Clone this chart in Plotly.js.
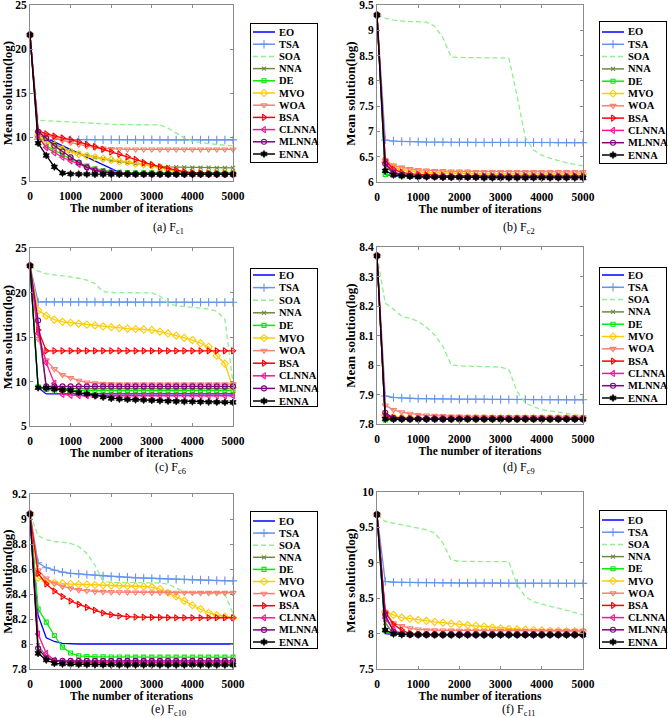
<!DOCTYPE html>
<html><head><meta charset="utf-8">
<script src="https://cdn.plot.ly/plotly-3.0.1.min.js"></script>
<style>html,body{margin:0;padding:0;background:#fff}#chart{width:668px;height:718px}</style>
</head><body><div id="chart"></div>
<script>
const ITER = [0,200,400,600,800,1000,1200,1400,1600,1800,2000,2200,2400,2600,2800,3000,3200,3400,3600,3800,4000,4200,4400,4600,4800,5000];
const NAMES = ['EO','TSA','SOA','NNA','DE','MVO','WOA','BSA','CLNNA','MLNNA','ENNA'];

// (a) Fc1
const a_EO    = [21.6,10.3,9.87,9.43,9.0,8.56,8.13,7.7,7.26,6.83,6.4,5.97,5.9,5.89,5.88,5.88,5.87,5.87,5.86,5.86,5.86,5.85,5.85,5.85,5.85,5.85];
const a_TSA   = [21.6,9.75,9.72,9.71,9.7,9.7,9.69,9.69,9.69,9.68,9.68,9.68,9.68,9.68,9.68,9.68,9.67,9.67,9.67,9.67,9.67,9.67,9.67,9.67,9.67,9.67];
const a_SOA   = [21.6,11.9,11.85,11.8,11.75,11.7,11.65,11.6,11.5,11.45,11.42,11.4,11.4,11.4,11.4,11.4,11.38,11.0,10.4,9.9,9.5,9.35,9.25,9.15,9.07,9.0];
const a_NNA   = [21.6,10.4,9.7,9.2,8.8,8.4,8.1,7.9,7.7,7.5,7.35,7.2,7.05,6.95,6.85,6.75,6.65,6.6,6.57,6.55,6.53,6.52,6.51,6.5,6.5,6.5];
const a_DE    = [21.6,10.0,9.0,8.5,8.0,7.5,7.1,6.7,6.4,6.2,6.05,5.98,5.95,5.93,5.92,5.92,5.91,5.91,5.9,5.9,5.9,5.9,5.9,5.9,5.9,5.9];
const a_MVO   = [21.6,10.2,9.5,9.0,8.6,8.3,8.05,7.85,7.7,7.55,7.4,7.25,7.15,7.0,6.9,6.75,6.55,6.3,6.1,5.95,5.85,5.82,5.8,5.8,5.8,5.8];
const a_WOA   = [21.6,10.5,10.2,9.9,9.6,9.35,9.15,8.95,8.8,8.7,8.65,8.62,8.6,8.6,8.6,8.6,8.6,8.6,8.6,8.6,8.6,8.6,8.6,8.6,8.6,8.6];
const a_BSA   = [21.6,10.7,10.35,10.1,9.9,9.7,9.45,9.15,8.9,8.6,8.3,8.05,7.75,7.45,7.1,6.85,6.6,6.4,6.2,6.05,5.95,5.9,5.85,5.82,5.8,5.8];
const a_CLNNA = [21.6,10.0,8.8,8.2,7.7,7.3,6.9,6.55,6.3,6.1,6.0,5.9,5.85,5.82,5.8,5.8,5.79,5.79,5.79,5.78,5.78,5.78,5.78,5.78,5.78,5.78];
const a_MLNNA = [21.6,10.6,9.85,9.0,8.35,7.7,7.1,6.55,6.2,6.0,5.9,5.85,5.82,5.8,5.8,5.8,5.8,5.8,5.8,5.8,5.8,5.8,5.8,5.8,5.8,5.8];
const a_ENNA  = [21.6,9.3,7.9,6.6,5.9,5.8,5.78,5.77,5.76,5.76,5.76,5.75,5.75,5.75,5.75,5.75,5.75,5.75,5.75,5.75,5.75,5.75,5.75,5.75,5.75,5.75];

// (b) Fc2
const b_EO    = [9.3,6.15,6.12,6.11,6.1,6.1,6.1,6.1,6.1,6.1,6.1,6.1,6.1,6.09,6.09,6.09,6.09,6.09,6.09,6.09,6.09,6.09,6.09,6.09,6.09,6.09];
const b_TSA   = [9.3,6.83,6.81,6.8,6.8,6.795,6.79,6.79,6.79,6.785,6.785,6.785,6.78,6.78,6.78,6.78,6.78,6.78,6.78,6.78,6.78,6.78,6.778,6.778,6.778,6.778];
const b_SOA   = [9.3,9.24,9.2,9.18,9.17,9.17,9.16,9.08,8.85,8.47,8.46,8.46,8.46,8.46,8.46,8.46,8.45,7.7,6.88,6.63,6.53,6.47,6.42,6.38,6.35,6.32];
const b_NNA   = [9.3,6.3,6.18,6.14,6.13,6.12,6.12,6.11,6.11,6.11,6.1,6.1,6.1,6.1,6.1,6.1,6.1,6.1,6.1,6.1,6.1,6.1,6.1,6.1,6.1,6.1];
const b_DE    = [9.3,6.15,6.13,6.12,6.12,6.11,6.11,6.11,6.1,6.1,6.1,6.1,6.1,6.1,6.1,6.1,6.1,6.1,6.1,6.1,6.1,6.1,6.1,6.1,6.1,6.1];
const b_MVO   = [9.3,6.4,6.3,6.25,6.22,6.2,6.19,6.18,6.18,6.17,6.17,6.17,6.16,6.16,6.16,6.16,6.16,6.16,6.16,6.16,6.16,6.16,6.16,6.16,6.16,6.16];
const b_WOA   = [9.3,6.43,6.33,6.29,6.26,6.24,6.23,6.22,6.22,6.21,6.21,6.21,6.2,6.2,6.2,6.2,6.2,6.2,6.2,6.2,6.2,6.2,6.2,6.2,6.2,6.2];
const b_BSA   = [9.3,6.43,6.25,6.19,6.16,6.15,6.14,6.13,6.13,6.12,6.12,6.12,6.12,6.12,6.12,6.12,6.12,6.12,6.12,6.12,6.12,6.12,6.12,6.12,6.12,6.12];
const b_CLNNA = [9.3,6.38,6.2,6.15,6.13,6.12,6.11,6.11,6.1,6.1,6.1,6.1,6.1,6.1,6.1,6.1,6.1,6.1,6.1,6.1,6.1,6.1,6.1,6.1,6.1,6.1];
const b_MLNNA = [9.3,6.36,6.18,6.14,6.12,6.11,6.11,6.1,6.1,6.1,6.1,6.1,6.1,6.1,6.1,6.1,6.1,6.1,6.1,6.1,6.1,6.1,6.1,6.1,6.1,6.1];
const b_ENNA  = [9.3,6.22,6.14,6.12,6.11,6.1,6.1,6.1,6.09,6.09,6.09,6.09,6.09,6.08,6.08,6.08,6.08,6.08,6.08,6.08,6.08,6.08,6.08,6.08,6.08,6.08];

// (c) Fc6
const c_EO    = [23,9.3,8.6,8.6,8.6,8.6,8.6,8.6,8.6,8.6,8.6,8.6,8.6,8.6,8.6,8.6,8.6,8.6,8.6,8.6,8.6,8.6,8.6,8.6,8.6,8.6];
const c_TSA   = [23,18.95,18.95,18.94,18.94,18.94,18.93,18.93,18.93,18.92,18.92,18.92,18.92,18.91,18.91,18.91,18.91,18.9,18.9,18.9,18.9,18.9,18.9,18.9,18.9,18.9];
const c_SOA   = [23,22.4,22.1,22.0,21.85,21.75,21.6,21.4,21.0,20.1,20.0,20.0,20.0,20.0,20.0,19.95,19.6,18.8,18.5,18.4,18.35,18.25,18.15,17.9,17.0,9.8];
const c_NNA   = [23,16.0,9.3,9.25,9.22,9.2,9.2,9.2,9.2,9.2,9.2,9.2,9.2,9.2,9.2,9.2,9.2,9.2,9.2,9.2,9.2,9.2,9.2,9.2,9.2,9.2];
const c_DE    = [23,9.4,9.1,9.05,9.02,9.0,9.0,9.0,9.0,9.0,9.0,9.0,9.0,9.0,9.0,9.0,9.0,9.0,9.0,9.0,9.0,9.0,9.0,9.0,9.0,9.0];
const c_MVO   = [23,18.0,17.4,16.95,16.7,16.6,16.5,16.4,16.3,16.2,16.1,16.0,15.95,15.9,15.85,15.8,15.6,15.4,15.15,14.9,14.65,14.3,13.9,12.9,12.0,9.3];
const c_WOA   = [23,14.8,12.4,11.4,10.75,10.4,10.1,9.9,9.8,9.75,9.72,9.7,9.7,9.7,9.7,9.7,9.7,9.7,9.7,9.7,9.7,9.7,9.7,9.7,9.7,9.7];
const c_BSA   = [23,15.8,13.45,13.45,13.45,13.45,13.45,13.45,13.45,13.45,13.45,13.45,13.45,13.45,13.45,13.45,13.45,13.45,13.45,13.45,13.45,13.45,13.45,13.45,13.45,13.45];
const c_CLNNA = [23,15.4,12.1,9.8,8.55,8.45,8.42,8.4,8.4,8.4,8.4,8.4,8.4,8.4,8.4,8.4,8.4,8.4,8.4,8.4,8.4,8.4,8.4,8.4,8.4,8.4];
const c_MLNNA = [23,16.85,9.45,9.45,9.45,9.45,9.45,9.45,9.45,9.45,9.45,9.45,9.45,9.45,9.45,9.45,9.45,9.45,9.45,9.45,9.45,9.45,9.45,9.45,9.45,9.45];
const c_ENNA  = [23,9.3,9.25,9.15,9.05,9.0,8.75,8.6,8.4,8.25,8.1,8.03,7.98,7.95,7.92,7.88,7.84,7.8,7.77,7.75,7.73,7.71,7.7,7.68,7.67,7.66];

// (d) Fc9
const d_EO    = [8.37,7.818,7.817,7.817,7.817,7.817,7.817,7.817,7.817,7.817,7.817,7.817,7.817,7.817,7.817,7.817,7.817,7.817,7.817,7.817,7.817,7.817,7.817,7.817,7.817,7.817];
const d_TSA   = [8.37,7.895,7.89,7.888,7.887,7.886,7.886,7.885,7.885,7.885,7.884,7.884,7.884,7.884,7.883,7.883,7.883,7.883,7.883,7.882,7.882,7.882,7.882,7.882,7.882,7.882];
const d_SOA   = [8.37,8.21,8.19,8.165,8.158,8.148,8.128,8.102,8.063,8.0,7.997,7.996,7.995,7.995,7.994,7.993,7.985,7.91,7.872,7.858,7.849,7.844,7.84,7.835,7.831,7.828];
const d_NNA   = [8.37,7.82,7.818,7.817,7.817,7.817,7.817,7.817,7.817,7.817,7.817,7.817,7.817,7.817,7.817,7.817,7.817,7.817,7.817,7.817,7.817,7.817,7.817,7.817,7.817,7.817];
const d_DE    = [8.37,7.814,7.815,7.816,7.816,7.816,7.816,7.816,7.816,7.816,7.816,7.816,7.816,7.816,7.816,7.816,7.816,7.816,7.816,7.816,7.816,7.816,7.816,7.816,7.816,7.816];
const d_MVO   = [8.37,7.83,7.824,7.822,7.821,7.82,7.82,7.82,7.82,7.82,7.82,7.82,7.82,7.82,7.82,7.82,7.82,7.82,7.82,7.82,7.82,7.82,7.82,7.82,7.82,7.82];
const d_WOA   = [8.37,7.863,7.848,7.84,7.835,7.831,7.829,7.828,7.827,7.826,7.826,7.825,7.825,7.825,7.824,7.824,7.824,7.824,7.824,7.824,7.823,7.823,7.823,7.823,7.823,7.823];
const d_BSA   = [8.37,7.828,7.822,7.819,7.818,7.818,7.818,7.818,7.818,7.818,7.818,7.818,7.818,7.818,7.818,7.818,7.818,7.818,7.818,7.818,7.818,7.818,7.818,7.818,7.818,7.818];
const d_CLNNA = [8.37,7.822,7.818,7.817,7.817,7.817,7.817,7.817,7.817,7.817,7.817,7.817,7.817,7.817,7.817,7.817,7.817,7.817,7.817,7.817,7.817,7.817,7.817,7.817,7.817,7.817];
const d_MLNNA = [8.37,7.838,7.82,7.818,7.817,7.817,7.817,7.817,7.817,7.817,7.817,7.817,7.817,7.817,7.817,7.817,7.817,7.817,7.817,7.817,7.817,7.817,7.817,7.817,7.817,7.817];
const d_ENNA  = [8.37,7.817,7.816,7.816,7.816,7.816,7.816,7.816,7.816,7.816,7.816,7.816,7.816,7.816,7.816,7.816,7.816,7.816,7.816,7.816,7.816,7.816,7.816,7.816,7.816,7.816];

// (e) Fc10
const e_EO    = [9.04,8.23,8.05,8.02,8.005,8.0,8.0,8.0,8.0,8.0,8.0,8.0,8.0,8.0,8.0,8.0,8.0,8.0,8.0,8.0,8.0,8.0,8.0,8.0,8.0,8.0];
const e_TSA   = [9.04,8.65,8.61,8.59,8.575,8.565,8.56,8.555,8.55,8.545,8.54,8.537,8.534,8.53,8.528,8.525,8.522,8.52,8.518,8.516,8.514,8.512,8.51,8.508,8.506,8.505];
const e_SOA   = [9.04,8.865,8.835,8.82,8.815,8.805,8.78,8.725,8.63,8.5,8.493,8.492,8.492,8.491,8.49,8.49,8.488,8.48,8.445,8.42,8.405,8.403,8.402,8.401,8.4,8.245];
const e_NNA   = [9.04,7.99,7.9,7.87,7.86,7.858,7.857,7.856,7.855,7.855,7.855,7.855,7.855,7.855,7.855,7.855,7.855,7.855,7.855,7.855,7.855,7.855,7.855,7.855,7.855,7.855];
const e_DE    = [9.04,8.28,8.175,8.068,7.975,7.928,7.905,7.9,7.898,7.897,7.896,7.896,7.895,7.895,7.895,7.895,7.895,7.895,7.895,7.895,7.895,7.895,7.895,7.895,7.895,7.895];
const e_MVO   = [9.04,8.53,8.5,8.49,8.485,8.48,8.477,8.475,8.472,8.47,8.468,8.466,8.464,8.462,8.46,8.455,8.44,8.41,8.38,8.345,8.31,8.28,8.25,8.232,8.218,8.21];
const e_WOA   = [9.04,8.59,8.525,8.485,8.46,8.445,8.432,8.425,8.42,8.418,8.416,8.415,8.414,8.413,8.413,8.412,8.412,8.412,8.411,8.411,8.411,8.41,8.41,8.41,8.41,8.41];
const e_BSA   = [9.04,8.565,8.48,8.424,8.38,8.344,8.317,8.293,8.27,8.248,8.234,8.224,8.219,8.216,8.214,8.213,8.212,8.211,8.21,8.21,8.21,8.21,8.21,8.21,8.21,8.21];
const e_CLNNA = [9.04,8.08,7.925,7.87,7.858,7.853,7.851,7.85,7.85,7.85,7.85,7.85,7.85,7.85,7.85,7.85,7.85,7.85,7.85,7.85,7.85,7.85,7.85,7.85,7.85,7.85];
const e_MLNNA = [9.04,7.965,7.885,7.868,7.866,7.865,7.865,7.865,7.865,7.865,7.865,7.865,7.865,7.865,7.865,7.865,7.865,7.865,7.865,7.865,7.865,7.865,7.865,7.865,7.865,7.865];
const e_ENNA  = [9.04,7.925,7.872,7.845,7.84,7.838,7.836,7.835,7.834,7.833,7.833,7.832,7.832,7.832,7.832,7.832,7.832,7.832,7.832,7.832,7.832,7.832,7.832,7.832,7.832,7.832];

// (f) Fc11
const f_EO    = [9.68,8.0,7.99,7.985,7.985,7.985,7.985,7.985,7.985,7.985,7.985,7.985,7.985,7.985,7.985,7.985,7.985,7.985,7.985,7.985,7.985,7.985,7.985,7.985,7.985,7.985];
const f_TSA   = [9.68,8.735,8.727,8.724,8.722,8.72,8.719,8.718,8.717,8.716,8.715,8.715,8.714,8.714,8.713,8.713,8.712,8.712,8.711,8.711,8.711,8.71,8.71,8.71,8.709,8.709];
const f_SOA   = [9.68,9.585,9.56,9.54,9.515,9.49,9.467,9.42,9.28,9.04,9.02,9.02,9.02,9.02,9.02,9.02,9.015,8.69,8.52,8.45,8.415,8.385,8.36,8.33,8.3,8.265];
const f_NNA   = [9.68,8.15,8.0,7.99,7.99,7.99,7.99,7.99,7.99,7.99,7.99,7.99,7.99,7.99,7.99,7.99,7.99,7.99,7.99,7.99,7.99,7.99,7.99,7.99,7.99,7.99];
const f_DE    = [9.68,8.04,8.0,7.995,7.99,7.99,7.99,7.99,7.99,7.99,7.99,7.99,7.99,7.99,7.99,7.99,7.99,7.99,7.99,7.99,7.99,7.99,7.99,7.99,7.99,7.99];
const f_MVO   = [9.68,8.3,8.265,8.226,8.21,8.193,8.18,8.165,8.155,8.14,8.13,8.12,8.11,8.1,8.085,8.075,8.066,8.06,8.055,8.05,8.045,8.04,8.037,8.034,8.032,8.03];
const f_WOA   = [9.68,8.31,8.146,8.11,8.075,8.06,8.05,8.047,8.045,8.044,8.043,8.042,8.042,8.041,8.041,8.04,8.04,8.04,8.04,8.04,8.04,8.04,8.04,8.04,8.04,8.04];
const f_BSA   = [9.68,8.3,8.13,8.05,8.0,7.99,7.985,7.985,7.985,7.985,7.985,7.985,7.985,7.985,7.985,7.985,7.985,7.985,7.985,7.985,7.985,7.985,7.985,7.985,7.985,7.985];
const f_CLNNA = [9.68,8.22,8.05,8.0,7.99,7.985,7.985,7.985,7.985,7.985,7.985,7.985,7.985,7.985,7.985,7.985,7.985,7.985,7.985,7.985,7.985,7.985,7.985,7.985,7.985,7.985];
const f_MLNNA = [9.68,8.265,8.03,7.99,7.985,7.985,7.985,7.985,7.985,7.985,7.985,7.985,7.985,7.985,7.985,7.985,7.985,7.985,7.985,7.985,7.985,7.985,7.985,7.985,7.985,7.985];
const f_ENNA  = [9.68,8.05,7.995,7.985,7.985,7.983,7.982,7.981,7.98,7.98,7.98,7.98,7.98,7.98,7.98,7.98,7.98,7.98,7.98,7.98,7.98,7.98,7.98,7.98,7.98,7.98];

const FONT = 'Liberation Serif, Times New Roman, serif';
const W = 668, H = 718;
const fx = p => p / W, fy = p => 1 - p / H;
const AX = '#8a8a8a';
const SOA_DASH = '5px,3px';

const STYLES = [
  {color:'#0000FF'},
  {color:'#6495ED', sym:'cross-thin-open', size:6},
  {color:'#90EE90', dash:SOA_DASH},
  {color:'#6E8B3D', sym:'x-thin-open', size:4},
  {color:'#00EE00', sym:'square-open', size:4},
  {color:'#FFCC00', sym:'diamond-open', size:5.5},
  {color:'#FA8072', sym:'triangle-down-open', size:5.5},
  {color:'#FF0000', sym:'triangle-right-open', size:5.5},
  {color:'#FF1493', sym:'triangle-left-open', size:5.5},
  {color:'#800080', sym:'circle-open', size:5},
  {color:'#000000', sym:'hexagram', size:5.5}
];

const PANELS = [
  {data:[a_EO,a_TSA,a_SOA,a_NNA,a_DE,a_MVO,a_WOA,a_BSA,a_CLNNA,a_MLNNA,a_ENNA], yr:[5,25], dt:5, px:[30,233], py:[5,181],
   leg:{x:[251,317], y:[24,162], first:32, last:154}, cap:'(a) F<sub>c1</sub>', cx:168, cy:228},
  {data:[b_EO,b_TSA,b_SOA,b_NNA,b_DE,b_MVO,b_WOA,b_BSA,b_CLNNA,b_MLNNA,b_ENNA], yr:[6,9.5], dt:0.5, px:[377,583], py:[5,182],
   leg:{x:[600,666], y:[22,163], first:32, last:155}, cap:'(b) F<sub>c2</sub>', cx:519, cy:228},
  {data:[c_EO,c_TSA,c_SOA,c_NNA,c_DE,c_MVO,c_WOA,c_BSA,c_CLNNA,c_MLNNA,c_ENNA], yr:[5,25], dt:5, px:[30,233], py:[248,426],
   leg:{x:[251,317], y:[269,406], first:275, last:401}, cap:'(c) F<sub>c6</sub>', cx:170, cy:468},
  {data:[d_EO,d_TSA,d_SOA,d_NNA,d_DE,d_MVO,d_WOA,d_BSA,d_CLNNA,d_MLNNA,d_ENNA], yr:[7.8,8.4], dt:0.1, px:[377,583], py:[247,424],
   leg:{x:[600,666], y:[268,404], first:275, last:398}, cap:'(d) F<sub>c9</sub>', cx:519, cy:468},
  {data:[e_EO,e_TSA,e_SOA,e_NNA,e_DE,e_MVO,e_WOA,e_BSA,e_CLNNA,e_MLNNA,e_ENNA], yr:[7.8,9.2], dt:0.2, px:[30,233], py:[494,669],
   leg:{x:[251,317], y:[512,648], first:521, last:642}, cap:'(e) F<sub>c10</sub>', cx:168, cy:710},
  {data:[f_EO,f_TSA,f_SOA,f_NNA,f_DE,f_MVO,f_WOA,f_BSA,f_CLNNA,f_MLNNA,f_ENNA], yr:[7.5,10], dt:0.5, px:[377,583], py:[492,669],
   leg:{x:[600,666], y:[511,648], first:520, last:642}, cap:'(f) F<sub>c11</sub>', cx:518, cy:710}
];

const traces = [];
const annotations = [];
const layout = {
  width: W, height: H, margin:{l:0,r:0,t:0,b:0}, paper_bgcolor:'#fff', plot_bgcolor:'#fff',
  showlegend:false, font:{family:FONT, color:'#000'}
};

const tickFont = {family:FONT, size:11.5, color:'#000', weight:700};
const titleFont = {family:FONT, size:11.5, color:'#000', weight:700};
const yTitleFont = {family:FONT, size:13, color:'#000', weight:700};

function markerOf(s) {
  const filled = s.sym === 'hexagram';
  return {symbol:s.sym, size:s.size, color:s.color, line:{color:s.color, width: filled ? 0.6 : 1.1}};
}

PANELS.forEach((P, k) => {
  const xa = 'x' + (k + 1), ya = 'y' + (k + 1);
  const lx = 'x' + (k + 7), ly = 'y' + (k + 7);

  P.data.forEach((vals, i) => {
    const s = STYLES[i];
    const tr = {type:'scatter', x:ITER, y:vals, xaxis:xa, yaxis:ya, name:NAMES[i], showlegend:false,
      mode: s.sym ? 'lines+markers' : 'lines', cliponaxis:false, hoverinfo:'skip',
      line:{color:s.color, width:1.3, dash:s.dash || 'solid'}};
    if (s.sym) tr.marker = markerOf(s);
    traces.push(tr);
  });

  layout['xaxis' + (k + 1)] = {
    domain:[fx(P.px[0]), fx(P.px[1])], anchor:ya, range:[0,5000], tick0:0, dtick:1000,
    showline:true, mirror:'ticks', linecolor:AX, linewidth:1, ticks:'inside', ticklen:3, tickcolor:AX,
    showgrid:false, zeroline:false, tickfont:tickFont, ticklabelstandoff:4, ticklabeloverflow:'allow',
    title:{text:'The number of iterations', font:titleFont, standoff:0}
  };
  layout['yaxis' + (k + 1)] = {
    domain:[fy(P.py[1]), fy(P.py[0])], anchor:xa, range:P.yr, tick0:P.yr[0], dtick:P.dt,
    showline:true, mirror:'ticks', linecolor:AX, linewidth:1, ticks:'inside', ticklen:3, tickcolor:AX,
    showgrid:false, zeroline:false, tickfont:tickFont, ticklabeloverflow:'allow',
    title:{text:'Mean solution(log)', font:yTitleFont, standoff:0}
  };

  // legend box drawn on its own small axes
  const L = P.leg;
  const sp = (L.last - L.first) / 10;
  const top = -(L.first - L.y[0]) / sp, bot = 10 + (L.y[1] - L.last) / sp;
  const boxAxis = {showline:true, mirror:true, linecolor:'#000', linewidth:1, showgrid:false, zeroline:false,
    showticklabels:false, ticks:'', fixedrange:true};
  layout['xaxis' + (k + 7)] = Object.assign({domain:[fx(L.x[0]), fx(L.x[1])], anchor:ly, range:[0, L.x[1] - L.x[0]]}, boxAxis);
  layout['yaxis' + (k + 7)] = Object.assign({domain:[fy(L.y[1]), fy(L.y[0])], anchor:lx, range:[bot, top]}, boxAxis);

  NAMES.forEach((n, i) => {
    const s = STYLES[i];
    traces.push({type:'scatter', x:[2,24], y:[i,i], xaxis:lx, yaxis:ly, mode:'lines', showlegend:false, hoverinfo:'skip',
      line:{color:s.color, width:1.5, dash:s.dash || 'solid'}});
    if (s.sym) traces.push({type:'scatter', x:[13], y:[i], xaxis:lx, yaxis:ly, mode:'markers', showlegend:false,
      hoverinfo:'skip', cliponaxis:false, marker:markerOf(s)});
    annotations.push({xref:lx, yref:ly, x:26, y:i, text:n, showarrow:false, xanchor:'left', yanchor:'middle',
      font:{family:FONT, size:10.5, color:'#000', weight:700}});
  });

  annotations.push({xref:'paper', yref:'paper', x:fx(P.cx), y:fy(P.cy), text:P.cap, showarrow:false,
    xanchor:'center', yanchor:'middle', font:{family:FONT, size:12, color:'#000'}});
});

layout.annotations = annotations;
Plotly.newPlot('chart', traces, layout, {staticPlot:true, displayModeBar:false});
</script>
</body></html>
